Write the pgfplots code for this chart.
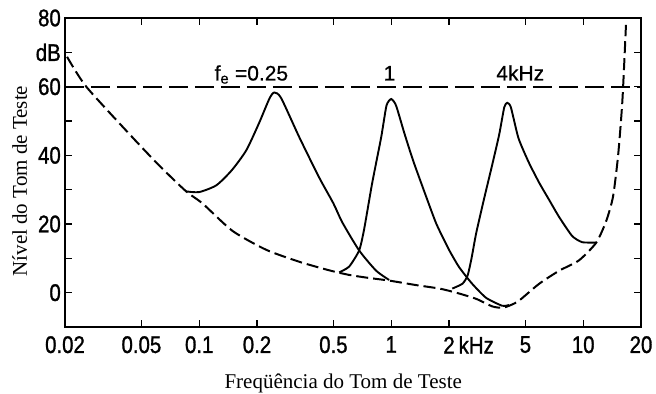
\documentclass[border=0pt]{standalone}
\usepackage{fontspec}
\setmainfont{Liberation Serif}
\newfontfamily\tickfont[FakeStretch=0.85,FakeBold=1.2]{Liberation Sans}
\newfontfamily\curvefont[FakeBold=0.6]{Liberation Sans}
\usepackage{pgfplots}
\pgfplotsset{compat=1.18}
\begin{document}
\begin{tikzpicture}
\path[use as bounding box] (-65bp,-67bp) rectangle (591bp,327bp);
\begin{axis}[
  at={(0,0)}, anchor=south west,
  scale only axis, width=576bp, height=309bp,
  xmode=log, xmin=0.02, xmax=20, ymin=-10, ymax=80,
  xtick={0.02,0.05,0.1,0.2,0.5,1,2,5,10,20},
  xticklabels={0.02,0.05,0.1,0.2,0.5,1,2\rlap{\,kHz},5,10,20},
  ytick={0,10,...,80},
  yticklabels={0,,20,,40,,60,dB,80},
  tick align=inside, major tick length=7bp,
  axis line style={line width=2pt},
  every tick/.style={line width=1.4pt, black},
  tick label style={font=\tickfont\fontsize{24bp}{24bp}\selectfont},
  xticklabel style={anchor=north, inner ysep=9bp},
  yticklabel style={anchor=east, inner xsep=4bp},
  xlabel={Freqüência do Tom de Teste},
  ylabel={Nível do Tom de Teste},
  label style={font=\fontsize{21bp}{21bp}\selectfont},
  xlabel style={at={(axis description cs:0.483,0)}, anchor=base, yshift=-61bp},
  ylabel style={at={(axis description cs:-0.066,0.472)}, anchor=base},
  clip=false,
]
% 60 dB reference line
\addplot[black, line width=2pt, dash pattern=on 19bp off 7bp] coordinates {(0.02,60) (20,60)};
% threshold in quiet
\addplot[black, line width=2pt, dash pattern=on 12bp off 5bp, smooth, tension=0.4] coordinates {
(0.0205,68.7) (0.0258,60) (0.0448,45.3) (0.062,37) (0.0855,29.5) (0.104,26) (0.149,18)
(0.223,12.5) (0.332,9) (0.476,6.5) (0.6,5.2) (0.74,4.4) (0.98,3.5) (1.35,2.2) (1.78,1.2)
(2.18,0) (2.77,-1.8) (3.36,-4.0) (3.8,-4.4) (4.2,-3.6) (4.64,-2.3) (5.9,2.6) (7.5,6.4)
(9.5,9.4) (11.7,14.6) (13.2,21) (14.3,28) (15.2,40) (16,56) (16.7,78)};
% tuning curve fe = 0.25 kHz
\addplot[black, line width=1.9pt, smooth, tension=0.4] coordinates {
(0.0855,29.5) (0.1,29.3) (0.123,31.3) (0.148,35.7) (0.176,41.5) (0.205,49.4) (0.232,56.5)
(0.246,58.3) (0.267,56.7) (0.332,45.3) (0.421,33.6) (0.5,26) (0.556,20.5) (0.681,12.3)
(0.835,6.4) (0.976,3.7)};
% tuning curve fe = 1 kHz
\addplot[black, line width=1.9pt, smooth, tension=0.35] coordinates {
(0.536,5.9) (0.604,7.6) (0.681,12.3) (0.723,18.5) (0.796,31.9) (0.887,45.3) (0.945,54.5)
(1.0,56.4) (1.06,54.5) (1.17,46.5) (1.3,38.5) (1.52,28) (1.72,20) (2.0,12.5) (2.26,7.4)
(2.64,2.6) (3.12,-1.5) (3.78,-3.8) (4.11,-3.6)};
% tuning curve fe = 4 kHz
\addplot[black, line width=1.9pt, smooth, tension=0.35] coordinates {
(2.08,1.2) (2.35,2.6) (2.5,5) (2.62,10) (2.77,17.3) (3.05,27.5) (3.35,37) (3.65,46)
(3.88,54) (4.02,55.3) (4.2,54) (4.6,45) (5.2,38) (5.9,32) (6.65,27) (7.5,22)
(8.76,16.5) (9.88,14.7) (11.7,14.6)};
\node[anchor=base east, font=\curvefont\fontsize{21bp}{21bp}\selectfont] at (axis cs:0.303,61.8) {f\textsubscript{e} =0.25};
\node[anchor=base, font=\curvefont\fontsize{21bp}{21bp}\selectfont] at (axis cs:0.98,61.8) {1};
\node[anchor=base, font=\curvefont\fontsize{21bp}{21bp}\selectfont] at (axis cs:4.7,61.8) {4kHz};
\end{axis}
\end{tikzpicture}
\end{document}
